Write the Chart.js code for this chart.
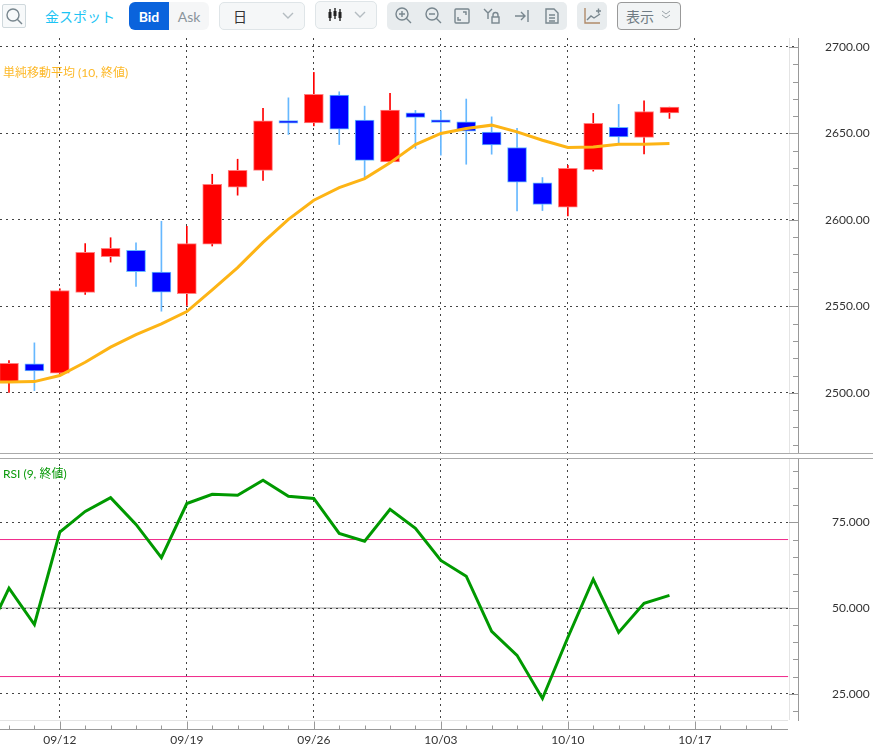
<!DOCTYPE html>
<html lang="ja">
<head>
<meta charset="utf-8">
<title>金スポット</title>
<script src="https://cdn.jsdelivr.net/npm/chart.js@4"></script>
<style>
  html, body { margin: 0; padding: 0; background: #fff; }
  body { width: 879px; height: 750px; position: relative; overflow: hidden;
         font-family: Lato, "Noto Sans CJK JP", sans-serif; color: #333; }
  canvas { position: absolute; left: 0; }
  #priceChart { top: 38px; }
  #rsiChart { top: 458px; }
  .box { position: absolute; box-sizing: border-box; display: flex; align-items: center; justify-content: center; }
  .rule { position: absolute; left: 0; width: 873px; height: 1px; background: #aaa; }
  .legend { position: absolute; left: 3px; font-size: 12px; line-height: 14px; }
  svg { position: absolute; fill: none; stroke: #78868e; stroke-width: 1.4; }
</style>
</head>
<body>
<div class="box" style="left:2px;top:4px;width:24px;height:24px;border:1px solid #cfd8dc;border-radius:2px;background:#f7f9fa"></div>
<svg style="left:5px;top:7px" width="18" height="18"><circle cx="8" cy="8" r="6"/><path d="M12 12l5 5"/></svg>
<div class="box" style="left:45px;top:6px;height:20px;font-size:14px;color:#1cc4f4">金スポット</div>
<div class="box" style="left:129px;top:2px;width:40px;height:28px;background:#0a63dc;color:#fff;font-size:14px;font-weight:700;border-radius:6px 0 0 6px">Bid</div>
<div class="box" style="left:169px;top:2px;width:40px;height:28px;background:#f5f6f7;color:#8a949c;font-size:14px;border-radius:0 6px 6px 0">Ask</div>
<div class="box" style="left:219px;top:2px;width:86px;height:28px;background:#f5f7f8;border:1px solid #dfe5e8;border-radius:5px;font-size:14px;justify-content:flex-start;padding-left:13px">日</div>
<svg style="left:282px;top:12px;stroke:#b4bcc1" width="12" height="8"><path d="M1 1l5 5 5-5"/></svg>
<div class="box" style="left:315px;top:1px;width:62px;height:28px;background:#f5f7f8;border:1px solid #dfe5e8;border-radius:5px"></div>
<svg style="left:328px;top:8px;stroke:#222" width="14" height="14"><path d="M2 1v12M7 0v11M12 1v12"/><path d="M2 4v6M7 3v5M12 4v6" stroke-width="3"/></svg>
<svg style="left:354px;top:11px;stroke:#b4bcc1" width="12" height="8"><path d="M1 1l5 5 5-5"/></svg>
<div class="box" style="left:387px;top:2px;width:180px;height:28px;background:#e8ecee;border-radius:5px"></div>
<svg style="left:394px;top:6px" width="18" height="18"><circle cx="8" cy="8" r="6"/><path d="M12 12l5 5M5 8h6M8 5v6"/></svg>
<svg style="left:424px;top:6px" width="18" height="18"><circle cx="8" cy="8" r="6"/><path d="M12 12l5 5M5 8h6"/></svg>
<svg style="left:454px;top:8px" width="16" height="16"><rect x="1" y="1" width="14" height="14" rx="1"/><path d="M9 4h3v3M7 12H4V9"/></svg>
<svg style="left:483px;top:8px" width="18" height="16"><path d="M1 1l4 4 4-4M5 5v6"/><rect x="9" y="9" width="7" height="6"/><path d="M10 9V7a2.5 2.5 0 0 1 5 0v2"/></svg>
<svg style="left:514px;top:9px" width="16" height="14"><path d="M1 7h10M7 3l4 4-4 4M14 1v12"/></svg>
<svg style="left:545px;top:8px" width="14" height="16"><path d="M1 1h8l4 4v10H1zM4 7h6M4 10h6M4 13h6"/></svg>
<div class="box" style="left:577px;top:2px;width:30px;height:28px;background:#e8ecee;border-radius:5px"></div>
<svg style="left:584px;top:7px" width="18" height="18"><path d="M1 1v15h15" stroke="#b08a6a"/><path d="M3 13l4-4 3 2 6-4M12 4h5M14.500 1.500v5"/></svg>
<div class="box" style="left:617px;top:2px;width:64px;height:28px;background:#f2f4f5;border:1px solid #999;border-radius:4px;font-size:14px;color:#6f7b83;justify-content:flex-start;padding-left:8px">表示</div>
<svg style="left:661px;top:10px;stroke:#9aa3a9;stroke-width:1" width="10" height="10"><path d="M1 1l4 3 4-3M1 5l4 3 4-3"/></svg>

<canvas id="priceChart" width="879" height="415"></canvas>
<canvas id="rsiChart" width="879" height="292"></canvas>

<div class="rule" style="top:453px"></div>
<div class="rule" style="top:458px"></div>
<div class="legend" style="top:66px;color:#fdb827">単純移動平均 (10, 終値)</div>
<div class="legend" style="top:467px;color:#0a9a0a">RSI (9, 終値)</div>

<script>
"use strict";
// one slot per weekday, index 0 = 09/10
const dates = ["09/10", "09/11", "09/12", "09/13", "09/16", "09/17", "09/18", "09/19", "09/20",
  "09/23", "09/24", "09/25", "09/26", "09/27", "09/30", "10/01", "10/02", "10/03", "10/04",
  "10/07", "10/08", "10/09", "10/10", "10/11", "10/14", "10/15", "10/16", "10/17", "10/18",
  "10/21", "10/22"];
const dateLabels = ["09/12", "09/19", "09/26", "10/03", "10/10", "10/17"];

const opens = [2506.5, 2516.7, 2511.3, 2558.1, 2578.7, 2582.4, 2569.8, 2557.3, 2585.9, 2618.9,
  2628.6, 2657.5, 2656.1, 2672.2, 2657.7, 2633.5, 2661.9, 2657.9, 2656.7, 2650.8, 2641.9,
  2621.4, 2607.3, 2629.1, 2653.5, 2647.7, 2661.9];
const highs = [2518.7, 2528.9, 2560.2, 2586.3, 2589.7, 2586.8, 2599.2, 2596.3, 2626.4, 2635.1,
  2664.5, 2670.6, 2685.3, 2674.1, 2665.8, 2673.2, 2663.3, 2663.1, 2669.9, 2659.6, 2652.9,
  2624.5, 2631.6, 2661.6, 2666.8, 2668.9, 2665.2];
const lows = [2500.3, 2501.3, 2511.1, 2556.9, 2575.6, 2561.5, 2547.2, 2550.5, 2584.9, 2614.3,
  2622.9, 2649.4, 2654.4, 2643.6, 2624.1, 2633.1, 2641.3, 2637.4, 2632.2, 2638.0, 2605.2,
  2605.4, 2602.3, 2628.2, 2644.4, 2638.2, 2658.7];
const closes = [2517.1, 2512.7, 2559.2, 2581.2, 2583.5, 2570.0, 2558.2, 2586.3, 2620.6, 2628.7,
  2657.3, 2656.0, 2672.6, 2652.5, 2634.4, 2663.5, 2659.3, 2656.4, 2651.3, 2643.4, 2621.8,
  2608.9, 2629.9, 2655.8, 2648.0, 2662.7, 2665.2];

// both lines start one slot left of the visible area (index -1)
const smaValues = [2506.5, 2506.2, 2506.5, 2510.0, 2517.7, 2526.4, 2533.7, 2539.9, 2547.0, 2559.6,
  2572.4, 2587.0, 2600.3, 2611.4, 2618.7, 2623.9, 2633.0, 2643.6, 2650.0, 2652.9, 2654.8,
  2650.9, 2646.1, 2641.9, 2642.2, 2643.8, 2643.8, 2644.2];
const rsiValues = [40.3, 55.8, 45.2, 72.2, 78.2, 82.2, 74.4, 64.7, 80.5, 83.2, 82.9, 87.3, 82.6,
  82.0, 71.8, 69.5, 78.8, 73.3, 63.9, 59.3, 43.2, 36.2, 23.6, 41.4, 58.4, 42.9, 51.4, 53.7];
const rsiLevels = [70, 50, 30];

const priceTicks = [2470, 2480, 2490, 2500, 2510, 2520, 2530, 2540, 2550, 2560, 2570, 2580, 2590,
  2600, 2610, 2620, 2630, 2640, 2650, 2660, 2670, 2680, 2690, 2700];
const rsiTicks = [20, 25, 30, 35, 40, 45, 50, 55, 60, 65, 70, 75, 80, 85, 90];

const slotMin = -0.354;
const slotMax = 31.06;
const levelEnd = 30.67;
const labelFont = { family: "Lato, 'Noto Sans CJK JP', sans-serif", size: 12 };

function isDateLabel(i) {
  return dateLabels.includes(dates[i]);
}

// tick padding also grows the chart margins, so drop that after the fit
function clearPadding(scale) {
  scale.paddingTop = 0;
  scale.paddingBottom = 0;
  scale.paddingLeft = 0;
  scale.paddingRight = 0;
}

// solid tick marks next to the axis, plus the pale edge lines the chart has
const axisMarks = {
  id: "axisMarks",
  afterDraw(chart, args, opts) {
    const ctx = chart.ctx;
    const { x, y } = chart.scales;
    const edge = chart.chartArea.right;
    ctx.save();
    ctx.lineWidth = 1;
    ctx.strokeStyle = "#e4e4e4";
    ctx.beginPath();
    ctx.moveTo(789.5, chart.chartArea.top);
    ctx.lineTo(789.5, chart.chartArea.bottom);
    ctx.stroke();
    ctx.strokeStyle = "#999";
    y.ticks.forEach((tick) => {
      const py = Math.round(y.getPixelForValue(tick.value)) + 0.5;
      const len = tick.value % opts.majorStep === 0 ? 9 : 5;
      ctx.beginPath();
      ctx.moveTo(edge - len, py);
      ctx.lineTo(edge, py);
      ctx.stroke();
    });
    if (opts.timeAxis) {
      const bottom = chart.chartArea.bottom;
      ctx.strokeStyle = "#e4e4e4";
      ctx.beginPath();
      ctx.moveTo(0, bottom + 0.5);
      ctx.lineTo(788, bottom + 0.5);
      ctx.stroke();
      ctx.strokeStyle = "#999";
      ctx.beginPath();
      ctx.moveTo(0, bottom + 9.5);
      ctx.lineTo(788, bottom + 9.5);
      ctx.stroke();
      x.ticks.forEach((tick) => {
        const px = Math.round(x.getPixelForValue(tick.value)) + 0.5;
        const len = isDateLabel(tick.value) ? 8 : 4;
        ctx.beginPath();
        ctx.moveTo(px, bottom + 9.5 - len);
        ctx.lineTo(px, bottom + 9.5);
        ctx.stroke();
      });
    }
    ctx.restore();
  },
};

function xScale(showLabels) {
  return {
    type: "linear",
    min: slotMin,
    max: slotMax,
    offset: false,
    afterBuildTicks(scale) {
      scale.ticks = dates.map((d, i) => ({ value: i }));
    },
    afterFit(scale) {
      scale.height = showLabels ? 30 : 0;
      clearPadding(scale);
    },
    grid: {
      offset: false,
      drawTicks: false,
      color: (c) => (isDateLabel(c.tick.value) ? "#444" : "rgba(0,0,0,0)"),
    },
    border: { display: false, dash: [2, 4] },
    ticks: {
      display: showLabels,
      autoSkip: false,
      maxRotation: 0,
      padding: 13,
      color: "#333",
      font: labelFont,
      callback: (v) => (isDateLabel(v) ? dates[v] : ""),
    },
  };
}

function yScale(min, max, tickValues, majorStep, decimals, padding) {
  return {
    position: "right",
    min: min,
    max: max,
    afterBuildTicks(scale) {
      scale.ticks = tickValues.map((v) => ({ value: v }));
    },
    afterFit(scale) {
      scale.width = 81;
      clearPadding(scale);
    },
    grid: {
      drawTicks: false,
      color: (c) => (c.tick.value % majorStep === 0 ? "#444" : "rgba(0,0,0,0)"),
    },
    border: { color: "#999", dash: [2, 4] },
    ticks: {
      padding: padding,
      autoSkip: false,
      color: "#333",
      font: labelFont,
      callback: (v) => (v % majorStep === 0 ? v.toFixed(decimals) : ""),
    },
  };
}

const baseOptions = {
  responsive: false,
  animation: false,
  devicePixelRatio: 1,
  layout: { padding: 0 },
};

const isUp = opens.map((o, i) => closes[i] >= o);

new Chart(document.getElementById("priceChart"), {
  type: "bar",
  data: {
    datasets: [
      {
        type: "line",
        data: smaValues.map((v, i) => ({ x: i - 1, y: v })),
        borderColor: "#fdb415",
        borderWidth: 3,
        pointRadius: 0,
        order: 0,
      },
      {
        data: opens.map((o, i) => ({ x: i, y: [o, closes[i]] })),
        backgroundColor: isUp.map((u) => (u ? "#ff0000" : "#0000ff")),
        borderColor: isUp.map((u) => (u ? "#ff8080" : "#66b8ff")),
        borderWidth: 1,
        borderSkipped: false,
        barThickness: 19,
        grouped: false,
        order: 1,
      },
      {
        data: lows.map((l, i) => ({ x: i, y: [l, highs[i]] })),
        backgroundColor: isUp.map((u) => (u ? "#ff0000" : "#66b8ff")),
        barThickness: 1,
        grouped: false,
        order: 2,
      },
    ],
  },
  options: {
    ...baseOptions,
    scales: {
      x: xScale(false),
      y: yScale(2465.2, 2705.2, priceTicks, 50, 2, 27),
    },
    plugins: {
      legend: { display: false },
      tooltip: { enabled: false },
      axisMarks: { majorStep: 50, timeAxis: false },
    },
  },
  plugins: [axisMarks],
});

new Chart(document.getElementById("rsiChart"), {
  type: "line",
  data: {
    datasets: [
      {
        data: rsiValues.map((v, i) => ({ x: i - 1, y: v })),
        borderColor: "#009900",
        borderWidth: 3,
        pointRadius: 0,
        order: 0,
      },
      ...rsiLevels.map((level) => ({
        data: [
          { x: slotMin, y: level },
          { x: levelEnd, y: level },
        ],
        borderColor: level === 50 ? "rgba(0,0,0,0.2)" : "#f0288a",
        borderWidth: level === 50 ? 2 : 1,
        pointRadius: 0,
        order: 1,
      })),
    ],
  },
  options: {
    ...baseOptions,
    scales: {
      x: xScale(true),
      y: yScale(17.32, 93.8, rsiTicks, 25, 3, 34),
    },
    plugins: {
      legend: { display: false },
      tooltip: { enabled: false },
      axisMarks: { majorStep: 25, timeAxis: true },
    },
  },
  plugins: [axisMarks],
});
</script>
</body>
</html>
